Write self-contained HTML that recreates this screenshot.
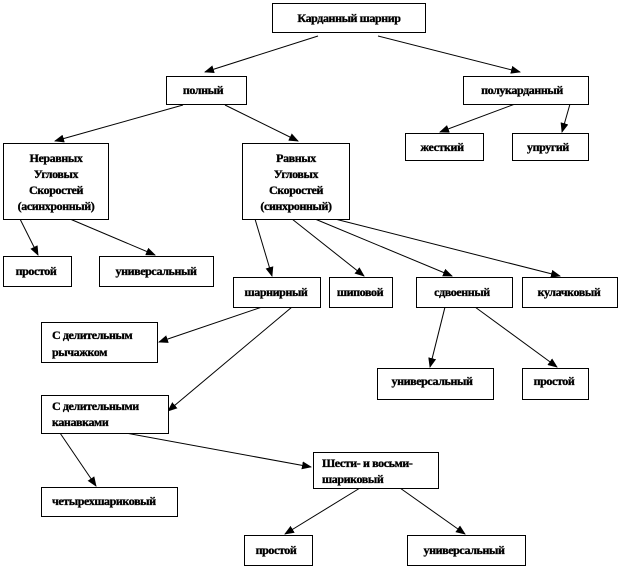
<!DOCTYPE html>
<html><head><meta charset="utf-8"><style>
body{margin:0;background:#fff}
svg{display:block}
text{font-family:"Liberation Serif","DejaVu Serif",serif;font-weight:bold;font-size:12px;fill:#000;stroke:#000;stroke-width:0.35;letter-spacing:-0.4px}
rect{fill:#fff;stroke:#000;stroke-width:1}
line{stroke:#000;stroke-width:1}
</style></head><body>
<svg width="620" height="568" viewBox="0 0 620 568" xmlns="http://www.w3.org/2000/svg">
<defs><marker id="a" markerWidth="10" markerHeight="8" refX="9" refY="4" orient="auto" markerUnits="userSpaceOnUse"><path d="M0,0 L10,4 L0,8 z" fill="#000"/></marker></defs>
<g marker-end="url(#a)">
<line x1="318" y1="36" x2="205" y2="72"/>
<line x1="378" y1="36" x2="520" y2="72"/>
<line x1="183" y1="105" x2="55" y2="141"/>
<line x1="225" y1="105" x2="298" y2="141"/>
<line x1="515" y1="104" x2="440" y2="132"/>
<line x1="570" y1="104" x2="562" y2="132"/>
<line x1="20" y1="219" x2="38" y2="255"/>
<line x1="70" y1="219" x2="155" y2="255"/>
<line x1="255" y1="219" x2="272" y2="276"/>
<line x1="292" y1="219" x2="364" y2="276"/>
<line x1="315" y1="219" x2="452" y2="276"/>
<line x1="335" y1="219" x2="560" y2="276"/>
<line x1="262" y1="307" x2="159" y2="342"/>
<line x1="292" y1="307" x2="168" y2="411"/>
<line x1="445" y1="307" x2="430" y2="367"/>
<line x1="475" y1="307" x2="557" y2="367"/>
<line x1="60" y1="433" x2="96" y2="486"/>
<line x1="120" y1="432" x2="311" y2="467"/>
<line x1="360" y1="488" x2="285" y2="534"/>
<line x1="400" y1="488" x2="465" y2="534"/>
</g>
<rect x="272.5" y="3.5" width="153" height="29"/>
<rect x="166.5" y="76.5" width="80" height="28"/>
<rect x="463.5" y="76.5" width="125" height="28"/>
<rect x="3.5" y="143.5" width="105" height="76"/>
<rect x="242.5" y="143.5" width="107" height="76"/>
<rect x="405.5" y="133.5" width="78" height="27"/>
<rect x="512.5" y="133.5" width="76" height="27"/>
<rect x="3.5" y="256.5" width="68" height="30"/>
<rect x="99.5" y="256.5" width="114" height="30"/>
<rect x="233.5" y="277.5" width="87" height="30"/>
<rect x="329.5" y="277.5" width="63" height="30"/>
<rect x="416.5" y="277.5" width="96" height="30"/>
<rect x="522.5" y="277.5" width="95" height="30"/>
<rect x="41.5" y="322.5" width="116" height="40"/>
<rect x="377.5" y="368.5" width="116" height="31"/>
<rect x="522.5" y="368.5" width="66" height="31"/>
<rect x="41.5" y="395.5" width="127" height="38"/>
<rect x="41.5" y="487.5" width="136" height="29"/>
<rect x="313.5" y="452.5" width="125" height="36"/>
<rect x="244.5" y="535.5" width="68" height="30"/>
<rect x="407.5" y="535.5" width="118" height="30"/>
<g text-anchor="middle">
<text x="349" y="22">Карданный шарнир</text>
<text x="203" y="94">полный</text>
<text x="522" y="94">полукарданный</text>
<text x="56" y="162">Неравных</text>
<text x="56" y="178">Угловых</text>
<text x="56" y="194">Скоростей</text>
<text x="56" y="210">(асинхронный)</text>
<text x="296" y="162">Равных</text>
<text x="296" y="178">Угловых</text>
<text x="296" y="194">Скоростей</text>
<text x="296" y="210">(синхронный)</text>
<text x="442" y="151">жесткий</text>
<text x="548" y="151">упругий</text>
<text x="36" y="275">простой</text>
<text x="156" y="275">универсальный</text>
<text x="276" y="296">шарнирный</text>
<text x="360" y="296">шиповой</text>
<text x="462" y="296">сдвоенный</text>
<text x="569" y="296">кулачковый</text>
<text x="432" y="385">универсальный</text>
<text x="554" y="385">простой</text>
<text x="276" y="554">простой</text>
<text x="464" y="554">универсальный</text>
</g>
<text x="52" y="339">С делительным</text>
<text x="52" y="356">рычажком</text>
<text x="52" y="410">С делительными</text>
<text x="52" y="426">канавками</text>
<text x="52" y="505">четырехшариковый</text>
<text x="322" y="467">Шести-  и восьми-</text>
<text x="322" y="483">шариковый</text>
</svg>
</body></html>
